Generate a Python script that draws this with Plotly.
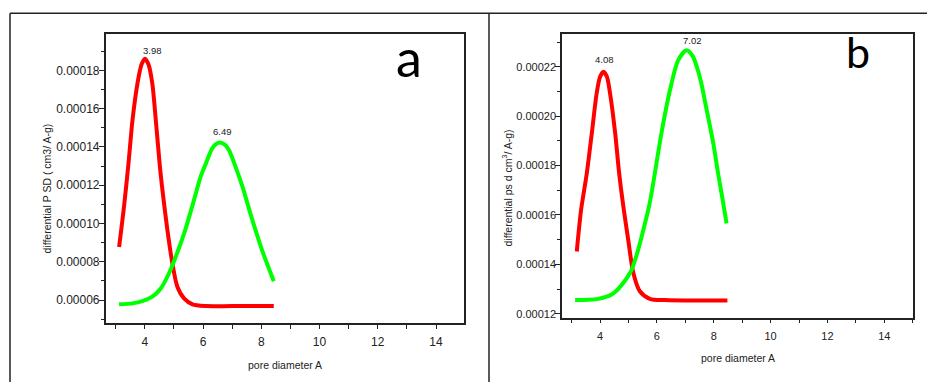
import plotly.graph_objects as go

# ---------------- data ----------------
# Panel a
a_red_x = [3.12, 3.29, 3.44, 3.58, 3.75, 3.89, 4.01, 4.13, 4.26, 4.38, 4.52, 4.61, 4.78, 4.95, 5.12, 5.35, 5.64, 6.09, 7.00, 8.43]
a_red_y = [8.77e-5, 10.9e-5, 13.1e-5, 15.4e-5, 17.31e-5, 18.3e-5, 18.61e-5, 18.3e-5, 17.31e-5, 15.4e-5, 12.98e-5,
           11.71e-5, 9.64e-5, 7.91e-5, 6.70e-5, 6.09e-5, 5.78e-5, 5.69e-5, 5.69e-5, 5.69e-5]
a_green_x = [3.12, 3.58, 3.92, 4.26, 4.55, 4.83, 5.06, 5.35, 5.64, 5.92, 6.09, 6.30, 6.42, 6.57, 6.75, 6.89, 7.18, 7.35, 7.69, 8.03, 8.43]
a_green_y = [5.78e-5, 5.83e-5, 5.95e-5, 6.18e-5, 6.61e-5, 7.39e-5, 8.25e-5, 9.47e-5, 10.95e-5, 12.45e-5, 13.1e-5,
             13.88e-5, 14.12e-5, 14.23e-5, 14.12e-5, 13.84e-5, 12.7e-5, 11.95e-5, 10.2e-5, 8.6e-5, 6.99e-5]
a_peak_labels = ["3.98", "6.49"]

# Panel b
b_red_x = [3.18, 3.33, 3.53, 3.71, 3.88, 4.00, 4.12, 4.24, 4.35, 4.53, 4.67, 4.82, 4.99, 5.17, 5.40, 5.75, 6.28, 7.40, 8.48]
b_red_y = [14.52e-5, 16.19e-5, 17.67e-5, 19.32e-5, 20.93e-5, 21.6e-5, 21.8e-5, 21.6e-5, 20.93e-5, 19.32e-5, 17.7e-5,
           16.33e-5, 14.99e-5, 13.65e-5, 12.91e-5, 12.6e-5, 12.55e-5, 12.53e-5, 12.53e-5]
b_green_x = [3.12, 3.60, 3.94, 4.20, 4.41, 4.62, 4.82, 5.00, 5.11, 5.34, 5.58, 5.75, 5.93, 6.16, 6.46, 6.75, 7.04,
             7.25, 7.39, 7.55, 7.68, 7.83, 7.98, 8.15, 8.30, 8.45]
b_green_y = [12.55e-5, 12.56e-5, 12.6e-5, 12.68e-5, 12.78e-5, 12.98e-5, 13.25e-5, 13.55e-5, 13.78e-5, 14.59e-5,
             15.66e-5, 16.5e-5, 17.71e-5, 19.32e-5, 21.06e-5, 22.27e-5, 22.67e-5, 22.45e-5, 22.05e-5, 21.4e-5,
             20.66e-5, 19.8e-5, 18.92e-5, 17.7e-5, 16.7e-5, 15.66e-5]
b_peak_labels = ["4.08", "7.02"]

x_tick_vals = [4, 6, 8, 10, 12, 14]
a_y_ticks = [0.00006, 0.00008, 0.00010, 0.00012, 0.00014, 0.00016, 0.00018]
b_y_ticks = [0.00012, 0.00014, 0.00016, 0.00018, 0.00020, 0.00022]

# ---------------- figure ----------------
RED = "#ff0000"
GREEN = "#00ff00"
AX = "#222222"
FONT = "Liberation Sans, Arial, sans-serif"

fig = go.Figure()
for xs, ys, col, xa, ya in [
    (a_red_x, a_red_y, RED, "x", "y"),
    (a_green_x, a_green_y, GREEN, "x", "y"),
    (b_red_x, b_red_y, RED, "x2", "y2"),
    (b_green_x, b_green_y, GREEN, "x2", "y2"),
]:
    fig.add_trace(go.Scatter(x=xs, y=ys, mode="lines", xaxis=xa, yaxis=ya,
                             line=dict(color=col, width=4, shape="spline", smoothing=0.8),
                             showlegend=False, hoverinfo="skip"))


def xaxis(domain, rng, anchor, fsize):
    return dict(domain=domain, range=rng, anchor=anchor, showgrid=False, zeroline=False,
                showline=True, mirror=True, linecolor=AX, linewidth=1.5,
                ticks="outside", ticklen=4, tickwidth=1.2, tickcolor=AX,
                tickvals=x_tick_vals, ticklabelstandoff=3,
                minor=dict(ticks="outside", ticklen=4, tickwidth=1.2, tickcolor=AX, dtick=1, tick0=1),
                tickfont=dict(family=FONT, size=fsize, color=AX))


def yaxis(domain, rng, anchor, tv, fsize):
    return dict(domain=domain, range=rng, anchor=anchor, showgrid=False, zeroline=False,
                showline=True, mirror=True, linecolor=AX, linewidth=1.5,
                ticks="outside", ticklen=5, tickwidth=1.2, tickcolor=AX,
                tickvals=tv, tickformat=".5f", ticklabelstandoff=-3,
                minor=dict(ticks="outside", ticklen=3, tickwidth=1.2, tickcolor=AX, dtick=1e-5, tick0=0),
                tickfont=dict(family=FONT, size=fsize, color=AX))


W, H = 927, 384


def px(v):
    return v / W


def py(v):
    return 1 - v / H


fig.update_layout(
    width=W, height=H, margin=dict(l=0, r=0, t=0, b=0),
    paper_bgcolor="white", plot_bgcolor="white",
    xaxis=xaxis([px(105.7), px(464.3)], [2.66, 14.97], "y", 12),
    yaxis=yaxis([py(325), py(34.3)], [0.0000479, 0.0001989], "x", a_y_ticks, 12),
    xaxis2=xaxis([px(562), px(913.3)], [2.66, 15.02], "y2", 11),
    yaxis2=yaxis([py(319.3), py(33.7)], [0.0001184, 0.0002335], "x2", b_y_ticks, 11),
)

# outer frame lines
frame = dict(color=AX, width=1.5)
fig.add_shape(type="line", xref="paper", yref="paper", x0=px(10), x1=1, y0=py(13.3), y1=py(13.3), line=frame)
fig.add_shape(type="line", xref="paper", yref="paper", x0=px(10), x1=px(10), y0=py(13.3), y1=0, line=frame)
fig.add_shape(type="line", xref="paper", yref="paper", x0=px(489), x1=px(489), y0=py(13.3), y1=0, line=frame)

# axis titles
tfont = dict(family=FONT, size=10.5, color=AX)
fig.add_annotation(text="differential P SD ( cm3/ A-g)", xref="paper", yref="paper", x=px(47), y=py(189.5),
                   textangle=-90, showarrow=False, font=tfont, xanchor="center", yanchor="middle")
fig.add_annotation(text="pore diameter A", xref="paper", yref="paper", x=px(285), y=py(367),
                   showarrow=False, font=tfont, xanchor="center", yanchor="middle")
fig.add_annotation(text="differential ps d cm<sup>3</sup>/ A-g)", xref="paper", yref="paper", x=px(507), y=py(189.5),
                   textangle=-90, showarrow=False, font=tfont, xanchor="center", yanchor="middle")
fig.add_annotation(text="pore diameter A", xref="paper", yref="paper", x=px(738), y=py(360),
                   showarrow=False, font=tfont, xanchor="center", yanchor="middle")

# panel letters
fig.add_annotation(text="a", xref="paper", yref="paper", x=px(409.3), y=py(57.8), showarrow=False,
                   font=dict(family="Lato, sans-serif", size=52, color="black"), xanchor="center", yanchor="middle")
fig.add_annotation(text="b", xref="paper", yref="paper", x=px(858.3), y=py(51.7), showarrow=False,
                   font=dict(family="Lato, sans-serif", size=43, color="black"), xanchor="center", yanchor="middle")

# peak labels (positioned at the peaks of the data)
pfont = dict(family=FONT, size=9.5, color=AX)
for xs, ys, lab, xa, ya, dx, dy in [
    (a_red_x, a_red_y, a_peak_labels[0], "x", "y", 7, 8),
    (a_green_x, a_green_y, a_peak_labels[1], "x", "y", 3, 11),
    (b_red_x, b_red_y, b_peak_labels[0], "x2", "y2", 1, 12),
    (b_green_x, b_green_y, b_peak_labels[1], "x2", "y2", 6, 9.5),
]:
    i = ys.index(max(ys))
    fig.add_annotation(text=lab, x=xs[i], y=ys[i], xref=xa, yref=ya, showarrow=False,
                       xshift=dx, yshift=dy, font=pfont, xanchor="center", yanchor="middle")

fig.write_html("out.html", config={"displayModeBar": False},
               post_script="document.body.style.margin='0px';document.body.style.padding='0px';")
